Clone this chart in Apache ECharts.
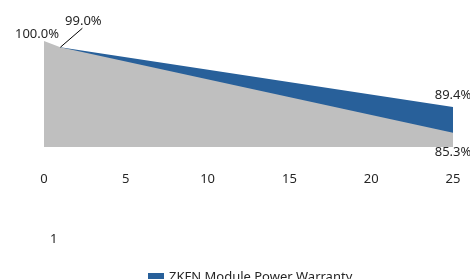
<!DOCTYPE html>
<html>
<head>
<meta charset="utf-8">
<script src="https://cdn.jsdelivr.net/npm/echarts@6/dist/echarts.min.js"></script>
<style>
  html, body { margin: 0; padding: 0; background: #fff; }
  #chart { width: 470px; height: 279px; }
</style>
</head>
<body>
<div id="chart"></div>
<script>
// warranty curves (year, % of nominal power)
const years = [0, 5, 10, 15, 20, 25];
const zkfnYears = [1, 25];
const zkfnValues = [99.0, 89.4];
const stdYears = [0, 1, 25];
const stdValues = [100.0, 99.0, 85.3];
const legendName = 'ZKFN Module Power Warranty';
const stdName = 'Standard Warranty';
const footNote = '1';

const font = 'Noto Sans';
const textColor = '#262626';

let myChart = echarts.init(document.getElementById('chart'));
let option;

option = {
  animation: false,
  textStyle: { fontFamily: font },
  grid: { left: 44, right: 17, top: 41, bottom: 132 },
  legend: {
    data: [legendName],
    icon: 'rect',
    left: 143,
    top: 266,
    itemWidth: 16,
    itemHeight: 9,
    itemGap: 7,
    textStyle: { fontSize: 13, color: textColor, fontFamily: font }
  },
  xAxis: {
    type: 'value',
    min: years[0],
    max: years[years.length - 1],
    interval: 5,
    axisLine: { show: false },
    axisTick: { show: false },
    splitLine: { show: false },
    axisLabel: { margin: 26, fontSize: 13, color: textColor, fontFamily: font }
  },
  yAxis: {
    type: 'value',
    min: 83,
    max: 100,
    show: false
  },
  series: [
    {
      name: legendName,
      type: 'line',
      data: zkfnYears.map((x, i) => [x, zkfnValues[i]]),
      symbol: 'circle',
      symbolSize: 0.1,
      showSymbol: true,
      lineStyle: { width: 0 },
      itemStyle: { color: '#28609A' },
      areaStyle: { color: '#28609A', opacity: 1 },
      label: {
        show: true,
        position: 'top',
        fontSize: 13,
        color: textColor,
        formatter: p => p.value[1].toFixed(1) + '%'
      },
      labelLayout: p => p.dataIndex === 0 ? { dx: 23, dy: -14 } : {}
    },
    {
      name: stdName,
      type: 'line',
      data: stdYears.map((x, i) => [x, stdValues[i]]),
      symbol: 'circle',
      symbolSize: 0.1,
      showSymbol: true,
      lineStyle: { width: 0 },
      itemStyle: { color: '#BFBFBF' },
      areaStyle: { color: '#BFBFBF', opacity: 1 },
      label: {
        show: true,
        fontSize: 13,
        color: textColor,
        formatter: p => (p.dataIndex === 1 ? '' : p.value[1].toFixed(1) + '%'),
        position: 'bottom'
      },
      labelLayout: p => p.dataIndex === 0 ? { dx: -7, dy: -18 } : { dy: 8 }
    }
  ]
};

option && myChart.setOption(option);

// leader line for the year-1 label, anchored on the data point
const p1 = myChart.convertToPixel({ gridIndex: 0 }, [zkfnYears[0], zkfnValues[0]]);
myChart.setOption({
  graphic: [
    {
      type: 'text',
      left: 50,
      top: 233,
      style: { text: footNote, fontSize: 13, fill: textColor, fontFamily: font }
    },
    {
      type: 'line',
      shape: { x1: p1[0], y1: p1[1], x2: p1[0] + 22, y2: p1[1] - 19 },
      style: { stroke: '#000', lineWidth: 1 },
      z: 10
    }
  ]
});
</script>
</body>
</html>
